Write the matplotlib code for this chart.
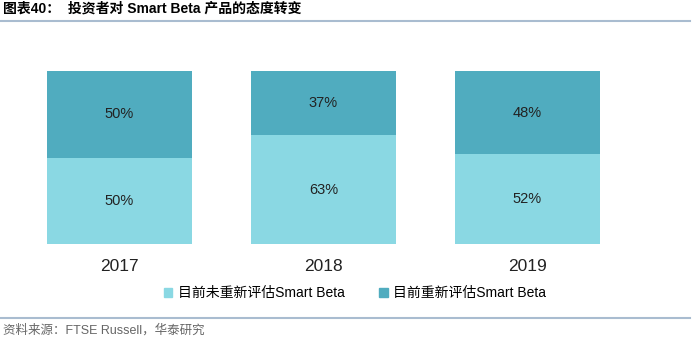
import matplotlib.pyplot as plt
from matplotlib.lines import Line2D
from matplotlib.patches import Patch

plt.rcParams['font.family'] = ['Liberation Sans', 'Noto Sans CJK SC', 'DejaVu Sans']

years = ['2017', '2018', '2019']
not_reassessed = [50, 63, 52]
reassessed = [50, 37, 48]
labels = ['目前未重新评估Smart Beta', '目前重新评估Smart Beta']

c_light = '#8AD8E3'
c_dark = '#50ACBF'

fig = plt.figure(figsize=(6.99, 3.40), dpi=100)
ax = fig.add_axes([17.5 / 699, 1 - 244 / 340, 612 / 699, 173 / 340])

x = range(len(years))
ax.bar(x, not_reassessed, width=0.71, color=c_light)
ax.bar(x, reassessed, width=0.71, bottom=not_reassessed, color=c_dark)
for i in x:
    ax.text(i, not_reassessed[i] / 2, f'{not_reassessed[i]}%', ha='center', va='center',
            fontsize=10.5, color='#222222')
    ax.text(i, not_reassessed[i] + reassessed[i] / 2, f'{reassessed[i]}%', ha='center',
            va='center', fontsize=10.5, color='#222222')

ax.set_xlim(-0.5, 2.5)
ax.set_ylim(0, 100)
ax.set_xticks(list(x))
ax.set_xticklabels(years, fontsize=12.5, color='#222222')
ax.tick_params(axis='x', length=0, pad=11)
ax.set_yticks([])
for s in ax.spines.values():
    s.set_visible(False)

handles = [Patch(color=c_light), Patch(color=c_dark)]
fig.legend(handles, labels, loc='center', bbox_to_anchor=(355 / 699, 1 - 293 / 340),
           ncol=2, frameon=False, fontsize=10, handlelength=0.6, handleheight=0.6,
           handletextpad=0.4, columnspacing=2.5)

fig.text(3 / 699, 1 - 9 / 340, '图表40：  投资者对 Smart Beta 产品的态度转变', fontsize=10,
         fontweight='bold', va='center', ha='left')
fig.add_artist(Line2D([0, 690 / 699], [1 - 21 / 340, 1 - 21 / 340], color='#A9BCD0', lw=1.5))
fig.add_artist(Line2D([0, 690 / 699], [1 - 318 / 340, 1 - 318 / 340], color='#A9BCD0', lw=1.5))
fig.text(3 / 699, 1 - 330 / 340, '资料来源：FTSE Russell，华泰研究', fontsize=9,
         color='#666666', va='center', ha='left')

fig.savefig('out.png', dpi=100)
